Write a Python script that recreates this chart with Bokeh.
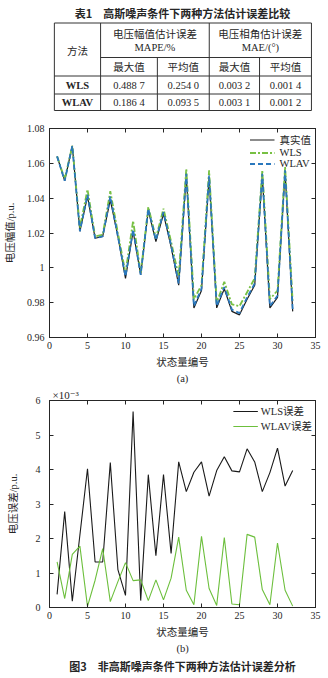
from bokeh.plotting import figure
from bokeh.layouts import column
from bokeh.models import (ColumnDataSource, Range1d, FixedTicker, LinearAxis, Legend,
                          LegendItem, Title, CustomJSTickFormatter)
from bokeh.core.properties import value
from bokeh.embed import file_html
from bokeh.resources import INLINE

# ---------------- data ----------------
table_title = "表1　高斯噪声条件下两种方法估计误差比较"
method_header = "方法"
group_headers = ["电压幅值估计误差", "电压相角估计误差"]
group_units = ["MAPE/%", "MAE/(°)"]
sub_headers = ["最大值", "平均值", "最大值", "平均值"]
methods = ["WLS", "WLAV"]
wls_row = ["0.488 7", "0.254 0", "0.003 2", "0.001 4"]
wlav_row = ["0.186 4", "0.093 5", "0.003 1", "0.001 2"]

state_idx = list(range(1, 33))
true_vals = [1.064, 1.050, 1.070, 1.021, 1.041, 1.017, 1.018, 1.039, 1.018, 0.994,
             1.021, 0.996, 1.033, 1.015, 1.031, 1.012, 0.990, 1.053, 0.977, 0.987,
             1.052, 0.977, 0.988, 0.975, 0.973, 0.982, 0.990, 1.053, 0.977, 0.983,
             1.055, 0.975]
wls_vals = [1.064, 1.051, 1.070, 1.023, 1.045, 1.018, 1.019, 1.044, 1.020, 0.997,
            1.027, 0.997, 1.035, 1.017, 1.034, 1.015, 0.995, 1.057, 0.982, 0.990,
            1.056, 0.980, 0.992, 0.979, 0.978, 0.986, 0.994, 1.056, 0.982, 0.987,
            1.058, 0.980]
wlav_vals = [1.064, 1.050, 1.070, 1.021, 1.042, 1.017, 1.018, 1.041, 1.018, 0.995,
             1.022, 0.996, 1.034, 1.016, 1.032, 1.013, 0.991, 1.054, 0.978, 0.988,
             1.053, 0.978, 0.989, 0.976, 0.974, 0.983, 0.991, 1.054, 0.978, 0.984,
             1.056, 0.976]
# errors in units of 1e-3 p.u.
wls_err = [0.38, 2.78, 0.18, 2.10, 4.02, 1.32, 1.32, 4.20, 1.10, 0.35,
           5.68, 0.20, 3.85, 1.50, 3.85, 1.57, 4.22, 3.36, 3.92, 4.22,
           3.23, 3.97, 4.37, 3.96, 3.93, 4.60, 4.22, 3.36, 3.91, 4.62,
           3.52, 3.97]
wlav_err = [1.32, 0.26, 1.54, 1.78, 0.03, 0.79, 1.71, 0.17, 0.75, 1.30,
            0.78, 0.80, 0.20, 0.80, 0.22, 0.85, 2.04, 0.50, 0.08, 2.06,
            0.55, 0.06, 2.03, 0.10, 0.08, 2.12, 2.04, 0.52, 0.08, 1.87,
            0.50, 0.04]

x_ticks = [0, 5, 10, 15, 20, 25, 30, 35]
ya_ticks = [0.96, 0.98, 1.00, 1.02, 1.04, 1.06, 1.08]
yb_ticks = [0, 1, 2, 3, 4, 5, 6]

# ---------------- styles ----------------
SERIF = "'Liberation Serif', 'Noto Sans CJK SC'"
SUPER = "'Liberation Serif', 'DejaVu Serif'"
CJK = "'Noto Sans CJK SC'"
TXT = "#262626"
AX = "#262626"

# ---------------- table ----------------
tbl = figure(width=328, height=115, x_range=Range1d(0, 328), y_range=Range1d(115, 0),
             output_backend="svg", toolbar_location=None, min_border=0,
             x_axis_location=None, y_axis_location=None, outline_line_color=None)
tbl.grid.visible = False

def ttext(fig, xs, ys, texts, font, size, bold=False):
    src = ColumnDataSource(dict(x=xs, y=ys, t=texts))
    fig.text(x="x", y="y", text="t", source=src, text_font=value(font),
             text_font_size=value(size), text_align="center", text_baseline="middle",
             text_color=TXT, text_font_style="bold" if bold else "normal")

ttext(tbl, [164], [12], [table_title], CJK, "11px", bold=True)
col_c = [98, 165, 228, 291]
grp_c = [130, 260]
ttext(tbl, [34.5], [49.5], [method_header], CJK, "10.5px")
ttext(tbl, grp_c, [33, 33], group_headers, CJK, "10.5px")
ttext(tbl, grp_c, [47, 47], group_units, "Liberation Serif", "10.5px")
ttext(tbl, col_c, [65.5] * 4, sub_headers, CJK, "10.5px")
ttext(tbl, [34.5, 34.5], [85, 102], methods, "Liberation Serif", "10.5px", bold=True)
ttext(tbl, col_c, [85] * 4, wls_row, "Liberation Serif", "10.5px")
ttext(tbl, col_c, [102] * 4, wlav_row, "Liberation Serif", "10.5px")

seg = dict(
    x0=[6, 63, 6, 6, 6, 6, 63, 197, 323, 133, 259],
    x1=[323, 323, 323, 323, 323, 6, 63, 197, 323, 133, 259],
    y0=[22.5, 57, 75.5, 93.5, 110, 22.5, 22.5, 22.5, 22.5, 57, 57],
    y1=[22.5, 57, 75.5, 93.5, 110, 110, 110, 110, 110, 110, 110],
)
tbl.segment(x0="x0", y0="y0", x1="x1", y1="y1", source=ColumnDataSource(seg),
            line_color="#333333", line_width=1)

# ---------------- chart helpers ----------------
def style_axis(ax, ticks, label_standoff):
    ax.ticker = FixedTicker(ticks=ticks, minor_ticks=[])
    ax.major_tick_in = 4
    ax.major_tick_out = 0
    ax.minor_tick_in = 0
    ax.minor_tick_out = 0
    ax.axis_line_color = AX
    ax.major_tick_line_color = AX
    ax.major_label_text_font = SERIF
    ax.major_label_text_font_size = "10px"
    ax.major_label_text_color = TXT
    ax.major_label_standoff = label_standoff
    ax.axis_label_text_font = SERIF
    ax.axis_label_text_font_size = "10.5px"
    ax.axis_label_text_font_style = "normal"
    ax.axis_label_text_color = TXT

def mirror_axes(fig, xt, yt):
    for loc, ticks in (("right", yt), ("above", xt)):
        ax = LinearAxis(formatter=CustomJSTickFormatter(code="return ''"))
        style_axis(ax, ticks, 0)
        ax.major_label_text_font_size = "0px"
        fig.add_layout(ax, loc)

def base_fig(height, yr, top, bottom):
    f = figure(width=328, height=height, x_range=Range1d(0, 35), y_range=Range1d(*yr),
               output_backend="svg", toolbar_location=None,
               min_border_left=49, min_border_right=13, min_border_top=top,
               min_border_bottom=bottom)
    f.grid.visible = False
    f.outline_line_color = AX
    f.background_fill_color = "white"
    f.border_fill_color = "white"
    return f

def below_title(fig, text, font, size, bold=False, standoff=0):
    t = Title(text=text, align="center", text_font=font, text_font_size=size,
              text_font_style="bold" if bold else "normal", text_color=TXT,
              standoff=standoff)
    fig.add_layout(t, "below")

# ---------------- chart (a) ----------------
pa = base_fig(270, (0.96, 1.08), 13, 48)
style_axis(pa.xaxis[0], x_ticks, 4)
style_axis(pa.yaxis[0], ya_ticks, 5)
pa.yaxis[0].formatter = CustomJSTickFormatter(code="return Number(tick.toFixed(2)).toString();")
pa.xaxis[0].axis_label = "状态量编号"
pa.xaxis[0].axis_label_standoff = 5
pa.yaxis[0].axis_label = "电压幅值/p.u."
pa.yaxis[0].axis_label_standoff = 8
mirror_axes(pa, x_ticks, ya_ticks)

src_a = ColumnDataSource(dict(x=state_idx, t=true_vals, w=wls_vals, v=wlav_vals))
r_true = pa.line("x", "t", source=src_a, line_color="#1a1a1a", line_width=1.2)
r_wls = pa.line("x", "w", source=src_a, line_color="#77c043", line_width=1.8,
                line_dash="6 2 2 2")
r_wlav = pa.line("x", "v", source=src_a, line_color="#2a78bd", line_width=1.8,
                 line_dash="5 3")
leg_a = Legend(items=[LegendItem(label="真实值", renderers=[r_true]),
                      LegendItem(label="WLS", renderers=[r_wls]),
                      LegendItem(label="WLAV", renderers=[r_wlav])],
               location="top_right", margin=4, padding=4, spacing=0,
               label_height=11, glyph_height=11, glyph_width=25, label_standoff=5,
               border_line_color=None, background_fill_alpha=0,
               label_text_font=SERIF, label_text_font_size="10.5px",
               label_text_color=TXT)
pa.add_layout(leg_a)
below_title(pa, "(a)", SERIF, "10.5px")

# ---------------- chart (b) ----------------
pb = base_fig(293, (0, 6), 15, 71)
style_axis(pb.xaxis[0], x_ticks, 4)
style_axis(pb.yaxis[0], yb_ticks, 9)
pb.xaxis[0].axis_label = "状态量编号"
pb.xaxis[0].axis_label_standoff = 5
pb.yaxis[0].axis_label = "电压误差/p.u."
pb.yaxis[0].axis_label_standoff = 14
mirror_axes(pb, x_ticks, yb_ticks)

pb.title.text = "×10⁻³"
pb.title.align = "left"
pb.title.offset = 3
pb.title.standoff = 0
pb.title.text_font = SUPER
pb.title.text_font_size = "11px"
pb.title.text_font_style = "normal"
pb.title.text_color = TXT

src_b = ColumnDataSource(dict(x=state_idx, a=wls_err, b=wlav_err))
r_we = pb.line("x", "a", source=src_b, line_color="#1a1a1a", line_width=1.1)
r_ve = pb.line("x", "b", source=src_b, line_color="#6cbf3c", line_width=1.1)
leg_b = Legend(items=[LegendItem(label="WLS误差", renderers=[r_we]),
                      LegendItem(label="WLAV误差", renderers=[r_ve])],
               location="top_right", margin=3, padding=4, spacing=0,
               label_height=14, glyph_height=14, glyph_width=25, label_standoff=3,
               border_line_color=None, background_fill_alpha=0,
               label_text_font=SERIF, label_text_font_size="10.5px",
               label_text_color=TXT)
pb.add_layout(leg_b)
below_title(pb, "(b)", SERIF, "10.5px")
below_title(pb, "图3　非高斯噪声条件下两种方法估计误差分析", CJK, "11px", bold=True, standoff=5)

layout = column(tbl, pa, pb, spacing=0)
open("out.html", "w").write(file_html(layout, INLINE))
